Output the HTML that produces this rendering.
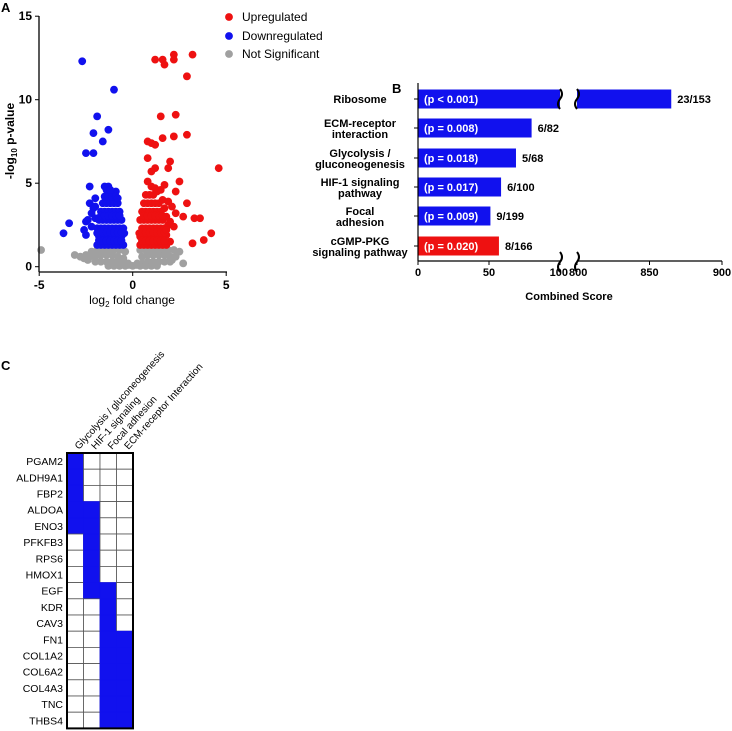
<!DOCTYPE html>
<html><head><meta charset="utf-8"><style>
body{margin:0;background:#fff;width:732px;height:731px;overflow:hidden;font-family:"Liberation Sans",Arial,sans-serif}
svg{position:absolute;left:0;top:0}
</style></head><body>
<svg id="s" width="732" height="731" xmlns="http://www.w3.org/2000/svg" font-family="Liberation Sans, Arial, sans-serif"></svg>
<script>
// ===== Volcano data =====
const upX=[1.2,1.6,1.7,2.2,2.2,3.2,2.9,1.5,2.3,2.9,2.2,1.6,0.8,1.0,1.2,2.0,4.6,0.8,1.2,1.0,1.9,2.5,0.8,1.7,2.3,2.9,3.3,3.6,2.7,3.2,3.8,4.2,2.3,
0.4,0.6,0.8,1.0,1.2,1.4,1.6,1.8,2.0,0.4,0.6,0.8,1.0,1.2,1.4,1.6,1.8,0.5,0.7,0.9,1.1,1.3,1.5,1.7,1.9,0.4,0.6,0.8,1.0,1.2,1.4,1.6,1.8,0.5,0.7,0.9,1.1,1.3,1.5,1.7,0.6,0.8,1.0,1.2,1.4,1.6,0.7,0.9,1.1,1.3,1.5,1.0,1.2,1.9,2.1,0.35,0.5,0.9,1.3,1.7,
0.5,0.7,0.9,1.1,1.3,1.5,1.7,0.5,0.7,0.9,1.1,1.3,1.5,1.7,0.6,0.8,1.0,1.2,1.4,1.6,1.8,2.0,2.2];
const upY=[12.4,12.4,12.1,12.7,12.4,12.7,11.4,9.0,9.1,7.9,7.8,7.7,7.5,7.4,7.3,6.3,5.9,6.5,5.9,5.7,5.9,5.1,5.1,4.9,4.5,3.8,2.9,2.9,3.0,1.4,1.6,2.0,3.2,
1.3,1.3,1.3,1.3,1.3,1.3,1.3,1.3,1.5,1.8,1.8,1.8,1.8,1.8,1.8,1.8,1.9,2.3,2.3,2.3,2.3,2.3,2.3,2.3,2.5,2.8,2.8,2.8,2.8,2.8,2.8,2.8,3.0,3.3,3.3,3.3,3.3,3.3,3.3,3.5,3.8,3.8,3.8,3.8,3.8,4.0,4.3,4.3,4.3,4.5,4.6,4.8,4.7,3.9,3.6,2.0,1.5,1.5,1.5,2.0,
1.55,1.55,1.55,1.55,1.55,1.55,1.55,2.05,2.05,2.05,2.05,2.05,2.05,2.05,3.05,3.05,3.05,3.05,3.05,3.05,2.2,2.7,2.4];
const downX=[-2.7,-1.0,-1.9,-2.1,-1.3,-1.6,-2.5,-2.1,-2.3,-1.5,-1.3,-0.9,-3.4,-3.7,-2.6,-2.5,-2.5,-2.3,-2.1,-2.0,-2.2,
-1.9,-1.7,-1.5,-1.3,-1.1,-0.9,-0.7,-0.5,-1.8,-1.6,-1.4,-1.2,-1.0,-0.8,-0.6,-1.9,-1.7,-1.5,-1.3,-1.1,-0.9,-0.7,-0.5,-1.8,-1.6,-1.4,-1.2,-1.0,-0.8,-0.6,-1.7,-1.5,-1.3,-1.1,-0.9,-0.7,-1.6,-1.4,-1.2,-1.0,-0.8,-1.5,-1.3,-1.1,-0.9,-1.4,-1.2,-0.8,-2.0,-1.9,-1.8,-0.45,
-1.8,-1.6,-1.4,-1.2,-1.0,-0.8,-0.6,-1.8,-1.6,-1.4,-1.2,-1.0,-0.8,-0.6,-1.7,-1.5,-1.3,-1.1,-0.9,-0.7,-2.2,-2.4,-2.0];
const downY=[12.3,10.6,9.0,8.0,8.2,7.5,6.8,6.8,4.8,4.8,4.8,4.5,2.6,2.0,2.2,1.9,2.7,3.8,3.5,2.9,3.2,
1.3,1.3,1.3,1.3,1.3,1.3,1.3,1.3,1.8,1.8,1.8,1.8,1.8,1.8,1.8,2.3,2.3,2.3,2.3,2.3,2.3,2.3,2.3,2.8,2.8,2.8,2.8,2.8,2.8,2.8,3.3,3.3,3.3,3.3,3.3,3.3,3.8,3.8,3.8,3.8,3.8,4.2,4.2,4.2,4.2,4.6,4.6,4.1,4.1,2.0,1.6,2.0,
1.55,1.55,1.55,1.55,1.55,1.55,1.55,2.05,2.05,2.05,2.05,2.05,2.05,2.05,3.05,3.05,3.05,3.05,3.05,3.05,2.4,2.8,3.6];
const nsX=[-4.9,2.7,-3.1,-2.8,-2.5,-2.2,-1.9,-1.6,-1.3,-1.0,-0.7,-0.4,0.4,0.7,1.0,1.3,1.6,1.9,2.2,2.5,-2.6,-2.3,-2.0,-1.7,-1.4,-1.1,-0.8,-0.5,-0.25,0.25,0.5,0.8,1.1,1.4,1.7,2.0,2.3,-2.0,-1.7,-1.4,-1.1,-0.8,-0.5,-0.2,0,0.2,0.5,0.8,1.1,1.4,1.7,2.0,-1.3,-1.0,-0.7,-0.4,0.4,0.7,1.0,1.3,-2.4,2.1];
const nsY=[1.0,0.2,0.7,0.6,0.7,0.9,1.0,1.0,1.0,1.0,1.0,0.9,1.0,1.0,1.0,1.0,1.0,1.0,1.0,0.9,0.5,0.6,0.6,0.7,0.7,0.7,0.6,0.5,0.2,0.2,0.6,0.7,0.7,0.7,0.7,0.6,0.6,0.3,0.3,0.3,0.3,0.3,0.2,0.1,0.05,0.1,0.2,0.3,0.3,0.3,0.3,0.3,0.05,0.05,0.05,0.05,0.05,0.05,0.05,0.05,0.4,0.4];
const vxTicks=[-5,0,5], vyTicks=[0,5,10,15];
// ===== Bar data =====
const pathways=["Ribosome","ECM-receptor|interaction","Glycolysis /|gluconeogenesis","HIF-1 signaling|pathway","Focal|adhesion","cGMP-PKG|signaling pathway"];
const scores=[865,80,69,58.5,51,57];
const pvals=["(p < 0.001)","(p = 0.008)","(p = 0.018)","(p = 0.017)","(p = 0.009)","(p = 0.020)"];
const ratios=["23/153","6/82","5/68","6/100","9/199","8/166"];
const barColors=["blue","blue","blue","blue","blue","red"];
const bTicksLo=[0,50,100], bTicksHi=[800,850,900];
// ===== Heatmap data =====
const genes=["PGAM2","ALDH9A1","FBP2","ALDOA","ENO3","PFKFB3","RPS6","HMOX1","EGF","KDR","CAV3","FN1","COL1A2","COL6A2","COL4A3","TNC","THBS4"];
const hmCols=["Glycolysis / gluconeogenesis","HIF-1 signaling","Focal adhesion","ECM-receptor Interaction"];
const membership=[[1,0,0,0],[1,0,0,0],[1,0,0,0],[1,1,0,0],[1,1,0,0],[0,1,0,0],[0,1,0,0],[0,1,0,0],[0,1,1,0],[0,0,1,0],[0,0,1,0],[0,0,1,1],[0,0,1,1],[0,0,1,1],[0,0,1,1],[0,0,1,1],[0,0,1,1]];

const S=document.getElementById('s'),NS="http://www.w3.org/2000/svg";
function mk(t,a,txt,p){const e=document.createElementNS(NS,t);for(const k in a)e.setAttribute(k,a[k]);if(txt!=null)e.textContent=txt;(p||S).appendChild(e);return e;}

// ---- Panel A ----
const vx=v=>132.7+v*18.7, vy=v=>266.7-v*16.7;
let t;
t=mk('text',{x:1,y:12,'font-size':13,'font-weight':'bold'},'A');


const gA=mk('g',{});


function dots(X,Y,c,n){for(let i=0;i<X.length;i++){const d=mk('circle',{cx:vx(X[i]),cy:vy(Y[i]),r:3.9,fill:c},null,gA);}}
dots(nsX,nsY,'#a0a0a0','ns-point');dots(upX,upY,'#ee1111','up-point');dots(downX,downY,'#1111ee','down-point');
mk('line',{x1:39,y1:16,x2:39,y2:272,stroke:'#000','stroke-width':1.3});
mk('line',{x1:39,y1:272,x2:227,y2:272,stroke:'#000','stroke-width':1.3});
vyTicks.forEach(v=>{mk('line',{x1:35,x2:39,y1:vy(v),y2:vy(v),stroke:'#000'});
 const e=mk('text',{x:32,y:vy(v)+4,'font-size':12,'font-weight':'bold','text-anchor':'end'},v);});
vxTicks.forEach(v=>{mk('line',{x1:vx(v),x2:vx(v),y1:272,y2:276,stroke:'#000'});
 const e=mk('text',{x:vx(v),y:289,'font-size':12,'font-weight':'bold','text-anchor':'middle'},v);});
t=mk('text',{x:132,y:304,'font-size':12,'text-anchor':'middle'});t.innerHTML='log<tspan font-size="8" dy="3">2</tspan><tspan dy="-3"> fold change</tspan>';

t=mk('text',{transform:'translate(14,141) rotate(-90)','font-size':12,'font-weight':'bold','text-anchor':'middle'});t.innerHTML='-log<tspan font-size="8" dy="3">10</tspan><tspan dy="-3">  p-value</tspan>';

[['Upregulated','#ee1111',17],['Downregulated','#1111ee',36],['Not Significant','#a0a0a0',54]].forEach(l=>{
 const g=mk('g',{});
 mk('circle',{cx:229,cy:l[2],r:3.9,fill:l[1]},null,g);mk('text',{x:242,y:l[2]+4,'font-size':12},l[0],g);});

// ---- Panel B ----
const bx=v=>v<=100?418+v*1.42:577+(v-800)*1.45;
const rowY=[99,128,158,187,216,246];
t=mk('text',{x:392,y:93,'font-size':13,'font-weight':'bold'},'B');
pathways.forEach((p,i)=>{const y=rowY[i],c=barColors[i]=='red'?'#ee1111':'#1111ee';
 const g=mk('g',{});
 const w=scores[i]>100?bx(100)-418:bx(scores[i])-418;
 mk('rect',{x:418,y:y-9.5,width:w,height:19,fill:c},null,g);
 if(scores[i]>100){mk('rect',{x:577,y:y-9.5,width:bx(scores[i])-577,height:19,fill:c},null,g);
  mk('path',{d:`M${bx(100)} ${y-10} q4 5 0 10 q-4 5 0 10`,stroke:'#000','stroke-width':2,fill:'none'},null,g);
  mk('path',{d:`M577 ${y-10} q4 5 0 10 q-4 5 0 10`,stroke:'#000','stroke-width':2,fill:'none'},null,g);}
 mk('text',{x:424,y:y+4,'font-size':11,'font-weight':'bold',fill:'#fff'},pvals[i],g);
 mk('text',{x:bx(scores[i])+6,y:y+4,'font-size':11,'font-weight':'bold'},ratios[i],g);
 const L=p.split('|');const lt=mk('text',{'font-size':11,'font-weight':'bold','text-anchor':'middle'},null,g);
 L.forEach((s,j)=>mk('tspan',{x:360,y:y+4+(L.length==2?(j?6:-5):0)},s,lt));
 mk('line',{x1:414,x2:418,y1:y,y2:y,stroke:'#000'},null,g);});
mk('line',{x1:418,y1:83,x2:418,y2:261,stroke:'#000','stroke-width':1.2});
mk('line',{x1:418,y1:261,x2:bx(100),y2:261,stroke:'#000','stroke-width':1.2});
mk('line',{x1:577,y1:261,x2:bx(900),y2:261,stroke:'#000','stroke-width':1.2});
mk('path',{d:`M${bx(100)} 252 q4 5 0 10 q-4 5 0 10 M577 252 q4 5 0 10 q-4 5 0 10`,stroke:'#000','stroke-width':2,fill:'none'});
bTicksLo.concat(bTicksHi).forEach(v=>{mk('line',{x1:bx(v),x2:bx(v),y1:261,y2:265,stroke:'#000'});
 const e=mk('text',{x:bx(v),y:276,'font-size':11,'font-weight':'bold','text-anchor':v==100?'end':v==800?'start':'middle'},v);
 if(v==100)e.setAttribute('x',bx(v)+8);if(v==800)e.setAttribute('x',bx(v)-8);
 });
t=mk('text',{x:569,y:300,'font-size':11,'font-weight':'bold','text-anchor':'middle'},'Combined Score');

// ---- Panel C ----
t=mk('text',{x:1,y:370,'font-size':13,'font-weight':'bold'},'C');
const hx0=67,hy0=453,cw=16.5,ch=16.2;
const gC=mk('g',{});
genes.forEach((g,r)=>{
 const e=mk('text',{x:63,y:hy0+r*ch+ch/2+4,'font-size':10.5,'text-anchor':'end'},g);
 membership[r].forEach((m,c)=>{const cell=mk('rect',{x:hx0+c*cw,y:hy0+r*ch,width:cw,height:ch,fill:m?'#1111ee':'#fff',stroke:m?'#1111ee':'#555','stroke-width':0.8},null,gC);
  });});
mk('rect',{x:hx0,y:hy0,width:cw*4,height:ch*17,fill:'none',stroke:'#000','stroke-width':2});
hmCols.forEach((c,i)=>{const e=mk('text',{transform:`translate(${hx0+i*cw+12},${hy0-3}) rotate(-48)`,'font-size':10},c);
 });
</script>
</body></html>
